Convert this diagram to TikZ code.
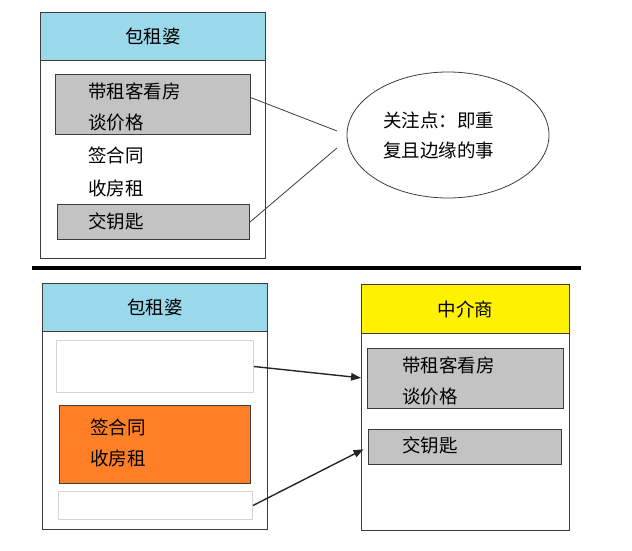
\documentclass[tikz,border=0pt]{standalone}
\usepackage{fontspec}
\newfontfamily\cjk{Noto Sans CJK SC}
\usetikzlibrary{shapes.geometric,arrows.meta}
\definecolor{headblue}{HTML}{99D9EA}
\definecolor{itemgray}{HTML}{C3C3C3}
\definecolor{signorange}{HTML}{FF7F27}
\definecolor{agentyellow}{HTML}{FFF200}
\definecolor{edgegray}{HTML}{3C3C3C}
\definecolor{softgray}{HTML}{D4D4D4}
\begin{document}
\begin{tikzpicture}[x=1pt,y=-1pt,
    every node/.style={font=\cjk\fontsize{18.5}{21}\selectfont},
    frame/.style={draw=edgegray,line width=1pt,anchor=north west,inner sep=0pt},
    blank/.style={draw=softgray,line width=1pt,fill=white,anchor=north west,inner sep=0pt},
    item/.style={anchor=west,inner sep=0pt},
    link/.style={draw=edgegray,line width=0.8pt},
    pass/.style={-{Triangle[length=10pt,width=7.5pt]},line width=1.4pt,draw=black!85}]
    \useasboundingbox (0,0) rectangle (632,551);
    % upper half: the landlord does everything
    \node[frame,fill=white,minimum width=225pt,minimum height=246pt] (landlord) at (40,12) {};
    \node[frame,fill=headblue,minimum width=225pt,minimum height=48pt] (landlordhead) at (40,12) {包租婆};
    \node[frame,fill=itemgray,minimum width=195pt,minimum height=60pt] (view) at (55,74) {};
    \node[item] at (88,91) {带租客看房};
    \node[item] at (88,123) {谈价格};
    \node[item] at (88,155) {签合同};
    \node[item] at (88,188) {收房租};
    \node[frame,fill=itemgray,minimum width=192pt,minimum height=35pt] (keys) at (57,204) {};
    \node[item] at (88,221) {交钥匙};
    \node[draw=edgegray,line width=0.8pt,ellipse,minimum width=202pt,minimum height=126pt,inner sep=0pt] (focus) at (448,135) {};
    \node[item] at (383,120) {关注点：即重};
    \node[item] at (383,150) {复且边缘的事};
    \coordinate (tipa) at (337,131);
    \coordinate (tipb) at (337,148);
    \draw[link] (view.4) -- (tipa);
    \draw[link] (keys.east) -- (tipb);
    % separator
    \coordinate (sepl) at (32,268);
    \coordinate (sepr) at (581,268);
    \draw[line width=3.5pt] (sepl) -- (sepr);
    % lower half: the agent takes over
    \node[frame,fill=white,minimum width=225pt,minimum height=246pt] (owner) at (42,283) {};
    \node[frame,fill=headblue,minimum width=225pt,minimum height=48pt] (ownerhead) at (42,283) {包租婆};
    \node[blank,minimum width=197pt,minimum height=52pt] (gone) at (56,340) {};
    \node[frame,fill=signorange,minimum width=191pt,minimum height=78pt] (sign) at (59,405) {};
    \node[item] at (90,427) {签合同};
    \node[item] at (90,458) {收房租};
    \node[blank,minimum width=194pt,minimum height=28pt] (gonekeys) at (58,491) {};
    \node[frame,fill=white,minimum width=208pt,minimum height=246pt] (agent) at (361,284) {};
    \node[frame,fill=agentyellow,minimum width=208pt,minimum height=49pt] (agenthead) at (361,284) {中介商};
    \node[frame,fill=itemgray,minimum width=196pt,minimum height=60pt] (agentview) at (367,348) {};
    \node[item] at (402,365) {带租客看房};
    \node[item] at (402,397) {谈价格};
    \node[frame,fill=itemgray,minimum width=193pt,minimum height=35pt] (agentkeys) at (368,429) {};
    \node[item] at (402,445) {交钥匙};
    \draw[pass,shorten >=6pt] (gone.east) -- (agentview.west);
    \draw[pass,shorten >=5pt] (gonekeys.east) -- (agentkeys.west);
\end{tikzpicture}
\end{document}
